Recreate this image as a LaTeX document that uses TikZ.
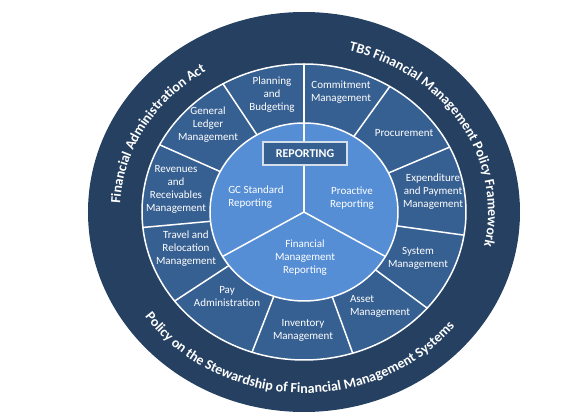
\documentclass[tikz,border=0pt]{standalone}
\usepackage{fontspec}
\setmainfont{Carlito}
\usetikzlibrary{decorations.text}

\definecolor{ringdark}{HTML}{254061}
\definecolor{ringmid}{HTML}{376092}
\definecolor{ringlight}{HTML}{558ED5}
\definecolor{boxedge}{HTML}{D5DEEB}

\newcommand{\ringfont}{\bfseries\fontsize{14}{16}\selectfont}

\tikzset{
  seg/.style={text=white, font=\fontsize{11}{13}\selectfont, align=center},
  divider/.style={white, line width=1.5pt},
  ringtext/.style={decorate, decoration={text along path, text align=center, text color=white}},
}

\begin{document}
\begin{tikzpicture}[x=1pt,y=1pt]
    \useasboundingbox (-304,-205) rectangle (283,212);
    \coordinate (O) at (0,0);

    % Кільця
    \fill[ringdark] (O) ellipse [x radius=216, y radius=200];
    \draw[divider, fill=ringmid] (O) ellipse [x radius=162, y radius=148];
    \draw[divider, fill=ringlight] (O) ellipse [x radius=94, y radius=89];

    % Поділки середнього кільця
    \foreach \a in {90,58,26,-9,-40.5,-72.5,-108.7,-143,-174,153,120}
        \draw[divider] ({94*cos(\a)},{89*sin(\a)}) -- ({162*cos(\a)},{148*sin(\a)});

    % Поділки внутрішнього кола
    \foreach \a in {90,-30,-150}
        \draw[divider] (O) -- ({94*cos(\a)},{89*sin(\a)});

    % Заголовок
    \node[draw=boxedge, line width=1.5pt, fill=ringmid, text=white,
          font=\bfseries\fontsize{12}{14}\selectfont,
          minimum width=84, minimum height=23] (rep) at (1,58.5) {REPORTING};

    % Внутрішнє коло
    \node[seg, align=left] (gcs) at (-48,15) {GC Standard\\Reporting};
    \node[seg] (pro) at (48,14) {Proactive\\Reporting};
    \node[seg] (fmr) at (1,-46) {Financial\\Management\\Reporting};

    % Середнє кільце
    \node[seg] (plan) at (-32,117) {Planning\\and\\Budgeting};
    \node[seg] (commit) at (37,120) {Commitment\\Management};
    \node[seg] (proc) at (100,79) {Procurement};
    \node[seg] (exp) at (129,20) {Expenditure\\and Payment\\Management};
    \node[seg] (sys) at (114,-46) {System\\Management};
    \node[seg, align=left] (asset) at (76,-94) {Asset\\Management};
    \node[seg] (inv) at (-1,-118) {Inventory\\Management};
    \node[seg] (pay) at (-77,-85) {Pay\\Administration};
    \node[seg] (travel) at (-118,-37) {Travel and\\Relocation\\Management};
    \node[seg] (rev) at (-128,23) {Revenues\\and\\Receivables\\Management};
    \node[seg] (gl) at (-96,87) {General\\Ledger\\Management};

    % Зовнішнє кільце
    \path[ringtext, decoration={text={|\ringfont|Financial Administration Act}}]
        ({184*cos(185)},{166*sin(185)}) arc[start angle=185, end angle=115, x radius=184, y radius=166];
    \path[ringtext, decoration={text={|\ringfont|TBS  Financial Management Policy Framework}}]
        ({184*cos(81.75)},{166*sin(81.75)}) arc[start angle=81.75, end angle=-18.25, x radius=184, y radius=166];
    \path[ringtext, decoration={text={|\ringfont|Policy on the Stewardship of Financial Management Systems}}]
        ({195*cos(-160)},{181*sin(-160)}) arc[start angle=-160, end angle=-24, x radius=195, y radius=181];
\end{tikzpicture}
\end{document}
